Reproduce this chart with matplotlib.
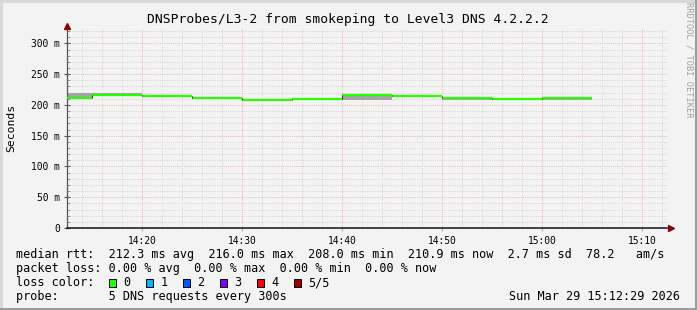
import matplotlib
matplotlib.use("Agg")
import matplotlib.pyplot as plt
from matplotlib.lines import Line2D
from matplotlib.patches import Rectangle

W, H = 697, 310

# --- data (5 minute steps, value is the step end) ---
step_end = ["14:15", "14:20", "14:25", "14:30", "14:35", "14:40",
            "14:45", "14:50", "14:55", "15:00", "15:05"]
median_ms = [212.0, 216.0, 214.2, 210.8, 208.0, 209.3,
             215.6, 214.0, 211.2, 210.3, 210.9]
smoke_lo_ms = [211.0, 215.0, 213.4, 210.0, 207.2, 208.5,
               208.6, 213.2, 207.8, 207.6, 207.6]
smoke_hi_ms = [219.2, 219.0, 215.0, 211.6, 208.8, 210.1,
               216.6, 215.0, 212.2, 211.2, 213.0]

x_ticks = ["14:20", "14:30", "14:40", "14:50", "15:00", "15:10"]
y_ticks = [0, 50, 100, 150, 200, 250, 300]
y_tick_labels = ["0", "50 m", "100 m", "150 m", "200 m", "250 m", "300 m"]
t_start, t_end = "14:12:30", "15:12:30"
step_min = 5

title = "DNSProbes/L3-2 from smokeping to Level3 DNS 4.2.2.2"
rtt_line = ("median rtt:  212.3 ms avg  216.0 ms max  208.0 ms min  "
            "210.9 ms now  2.7 ms sd  78.2   am/s")
loss_line = "packet loss: 0.00 % avg  0.00 % max  0.00 % min  0.00 % now"
probe_line = "probe:       5 DNS requests every 300s"
stamp = "Sun Mar 29 15:12:29 2026"
loss_labels = ["0", "1", "2", "3", "4", "5/5"]
loss_colors = ["#26ff00", "#00b8ff", "#0059ff", "#7e00ff", "#ff0000", "#a00000"]

BG = "#f3f3f3"
MONO = "DejaVu Sans Mono"


def minutes(s):
    parts = [int(p) for p in s.split(":")]
    while len(parts) < 3:
        parts.append(0)
    return parts[0] * 60 + parts[1] + parts[2] / 60.0


def fx(x):
    return x / W


def fy(y):
    return 1 - y / H


fig = plt.figure(figsize=(W / 100, H / 100), dpi=100, facecolor=BG)
ax = fig.add_axes([fx(67), fy(228), (667 - 67) / W, (228 - 28) / H])
ax.set_facecolor(BG)

ends = [minutes(s) for s in step_end]
starts = [e - step_min for e in ends]

# smoke
ax.bar(starts, [h - l for h, l in zip(smoke_hi_ms, smoke_lo_ms)],
       bottom=smoke_lo_ms, width=step_min, align="edge",
       color="#a4a4a4", linewidth=0, zorder=2)
# median line
ax.hlines(median_ms, starts, ends, colors="#26ff00", linewidth=1.6, zorder=3)
ax.vlines(ends[:-1], median_ms[:-1], median_ms[1:], colors="#333333",
          linewidth=0.7, zorder=3)

ax.set_xlim(minutes(t_start), minutes(t_end))
ax.set_ylim(0, 325)

# grid
grid_kw = dict(linewidth=0.72, linestyle=(0, (1, 1.2)), zorder=1)
for v in range(10, 325, 10):
    if v % 50:
        ax.axhline(v, color="#d6d6d6", **grid_kw)
for v in range(50, 325, 50):
    ax.axhline(v, color="#eeb4b4", **grid_kw)
m = minutes(t_start)
t = int(m) + (int(m) % 2)
while t < minutes(t_end):
    ax.axvline(t, color="#eeb4b4" if t % 10 == 0 else "#d6d6d6", **grid_kw)
    t += 2

ax.set_yticks(y_ticks)
ax.set_yticklabels(y_tick_labels)
ax.set_yticks(range(10, 325, 10), minor=True)
ax.set_xticks([minutes(s) for s in x_ticks])
ax.set_xticklabels(x_ticks)
ax.tick_params(axis="y", which="major", direction="inout", length=5,
               width=0.8, color="#555555", pad=2.5, labelsize=6.9)
ax.tick_params(axis="y", which="minor", direction="in", length=2.5,
               width=0.6, color="#888888")
ax.tick_params(axis="x", which="major", direction="out", length=2.5,
               width=0.8, color="#e29a9a", pad=3, labelsize=6.9)
for lab in ax.get_xticklabels() + ax.get_yticklabels():
    lab.set_fontfamily(MONO)

for side in ("top", "right"):
    ax.spines[side].set_visible(False)
ax.spines["left"].set_color("#555555")
ax.spines["left"].set_linewidth(0.9)
ax.spines["bottom"].set_color("#111111")
ax.spines["bottom"].set_linewidth(1.1)

# arrows
ax.plot([0], [1.012], marker="^", ms=4.5, color="#8b0000",
        transform=ax.transAxes, clip_on=False, zorder=5)
ax.plot([1.006], [0], marker=">", ms=4.5, color="#8b0000",
        transform=ax.transAxes, clip_on=False, zorder=5)

# texts
fig.text(fx(348), fy(19), title, family=MONO, fontsize=9.4,
         ha="center", va="center")
fig.text(fx(11), fy(128), "Seconds", family=MONO, fontsize=8.2,
         rotation=90, ha="center", va="center")
fig.text(fx(688.5), fy(60), "RRDTOOL / TOBI OETIKER", family=MONO,
         fontsize=6.2, rotation=270, ha="center", va="center", color="#a0a0a0")

tkw = dict(family=MONO, fontsize=8.5, va="center", ha="left")
fig.text(fx(16), fy(254.5), rtt_line, **tkw)
fig.text(fx(16), fy(268.5), loss_line, **tkw)
fig.text(fx(16), fy(282.5), "loss color:", **tkw)
fig.text(fx(16), fy(296.5), probe_line, **tkw)
fig.text(fx(680), fy(296.5), stamp, family=MONO, fontsize=8.5,
         va="center", ha="right")

for i, (lab, col) in enumerate(zip(loss_labels, loss_colors)):
    bx = 109 + i * 36.9
    fig.add_artist(Rectangle((fx(bx), fy(286.5)), 7 / W, 8 / H,
                             transform=fig.transFigure, facecolor=col,
                             edgecolor="black", linewidth=0.7))
    fig.text(fx(bx + 14.5), fy(282.5), lab, **tkw)

# 3d-ish frame
for (x0, y0, x1, y1, c) in [(0, 1, W, 1, "#d8d8d8"), (1, 0, 1, H, "#d8d8d8"),
                            (0, H - 1.5, W, H - 1.5, "#9c9c9c"),
                            (W - 1.5, 0, W - 1.5, H, "#9c9c9c")]:
    fig.add_artist(Line2D([fx(x0), fx(x1)], [fy(y0), fy(y1)],
                          transform=fig.transFigure, color=c, linewidth=2.2))

fig.savefig("out.png", dpi=100, facecolor=BG)
